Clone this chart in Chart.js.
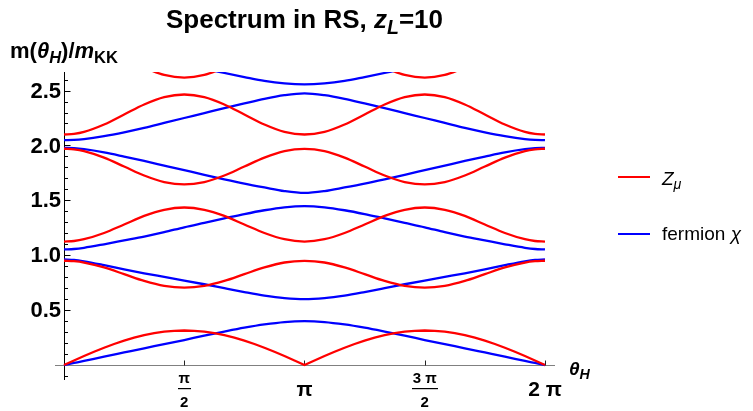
<!DOCTYPE html>
<html>
<head>
<meta charset="utf-8">
<script src="https://cdn.jsdelivr.net/npm/chart.js@4.4.1/dist/chart.umd.min.js"></script>
<style>
  body { margin: 0; background: #fff; }
  #wrap { position: relative; width: 753px; height: 411px; font-family: "Liberation Sans", Arial, sans-serif; }
  #box { position: absolute; left: 0; top: 0; width: 753px; height: 411px; }
  .lbl { position: absolute; line-height: 1; white-space: nowrap; color: #000; }
  .lbl sub { font-size: 0.75em; line-height: 0; vertical-align: -0.3em; }
  .swatch { position: absolute; width: 32px; height: 2px; }
</style>
</head>
<body>
<div id="wrap">
  <div id="box"><canvas id="spec"></canvas></div>
  <div class="lbl" style="left:0;width:609px;text-align:center;top:6px;font-size:26px;font-weight:bold">Spectrum in RS, <i>z</i><sub><i>L</i></sub>=10</div>
  <div class="lbl" style="left:10px;top:40px;font-size:22px;font-weight:bold">m(<i>θ</i><sub><i>H</i></sub>)/<i>m</i><sub>KK</sub></div>
  <div class="lbl" style="left:569px;top:359px;font-size:19px;font-weight:bold"><i>θ</i><sub><i>H</i></sub></div>
  <div class="swatch" style="left:618px;top:176px;background:#ff0000"></div>
  <div class="lbl" style="left:662px;top:169px;font-size:19px"><i>Z</i><sub><i>μ</i></sub></div>
  <div class="swatch" style="left:618px;top:233px;background:#0000ff"></div>
  <div class="lbl" style="left:662px;top:224px;font-size:19px">fermion <i>χ</i></div>
</div>
<script>
// theta in units of pi/12 (0 .. 2 pi); extra half steps at the ends
const theta = [0,0.5,1,2,3,4,5,6,7,8,9,10,11,12,13,14,15,16,17,18,19,20,21,22,23,23.5,24]
// finer grid for the lowest Z mode, which has a kink at pi
const thetaFine = [0,0.5,1,1.5,2,2.5,3,3.5,4,4.5,5,5.5,6,6.5,7,7.5,8,8.5,9,9.5,10,10.5,11,11.5,12,
    12.5,13,13.5,14,14.5,15,15.5,16,16.5,17,17.5,18,18.5,19,19.5,20,20.5,21,21.5,22,22.5,23,23.5,24]

// Z_mu tower (red)
const z1 = [0,0.041,0.082,0.121,0.158,0.192,0.223,0.25,0.273,0.291,0.304,0.312,0.315,0.312,0.304,0.291,0.273,0.25,0.223,0.192,0.158,0.121,0.082,0.041,0,
    0.041,0.082,0.121,0.158,0.192,0.223,0.25,0.273,0.291,0.304,0.312,0.315,0.312,0.304,0.291,0.273,0.25,0.223,0.192,0.158,0.121,0.082,0.041,0]
const z2 = [0.95,0.946,0.934,0.889,0.828,0.766,0.721,0.705,0.721,0.766,0.828,0.889,0.934,0.948,0.934,0.889,0.828,0.766,0.721,0.705,0.721,0.766,0.828,0.889,0.934,0.946,0.95]
const z3 = [1.125,1.13,1.146,1.203,1.28,1.358,1.414,1.435,1.414,1.358,1.28,1.203,1.146,1.125,1.146,1.203,1.28,1.358,1.414,1.435,1.414,1.358,1.28,1.203,1.146,1.13,1.125]
const z4 = [1.97,1.964,1.948,1.889,1.808,1.726,1.667,1.645,1.667,1.726,1.808,1.889,1.948,1.968,1.948,1.889,1.808,1.726,1.667,1.645,1.667,1.726,1.808,1.889,1.948,1.964,1.97]
const z5 = [2.10,2.106,2.124,2.191,2.282,2.373,2.44,2.464,2.44,2.373,2.282,2.191,2.124,2.10,2.124,2.191,2.282,2.373,2.44,2.464,2.44,2.373,2.282,2.191,2.124,2.106,2.10]
const z6 = [null,null,null,null,null,2.708,2.642,2.618,2.642,2.708,null,null,null,null,null,null,null,2.708,2.642,2.618,2.642,2.708,null,null,null,null,null]

// fermion chi tower (blue)
const f1 = [0,0.019,0.038,0.077,0.115,0.153,0.19,0.228,0.268,0.305,0.34,0.37,0.392,0.40,0.392,0.37,0.34,0.305,0.268,0.228,0.19,0.153,0.115,0.077,0.038,0.019,0]
const f2 = [0.962,0.958,0.945,0.91,0.872,0.836,0.803,0.77,0.736,0.70,0.665,0.633,0.61,0.60,0.61,0.633,0.665,0.70,0.736,0.77,0.803,0.836,0.872,0.91,0.945,0.958,0.962]
const f3 = [1.053,1.057,1.068,1.10,1.135,1.17,1.21,1.255,1.295,1.335,1.375,1.41,1.437,1.448,1.437,1.41,1.375,1.335,1.295,1.255,1.21,1.17,1.135,1.10,1.068,1.057,1.053]
const f4 = [1.978,1.975,1.966,1.937,1.899,1.859,1.817,1.775,1.733,1.692,1.653,1.618,1.585,1.568,1.585,1.618,1.653,1.692,1.733,1.775,1.817,1.859,1.899,1.937,1.966,1.975,1.978]
const f5 = [2.048,2.05,2.058,2.085,2.12,2.16,2.205,2.25,2.295,2.34,2.383,2.425,2.458,2.475,2.458,2.425,2.383,2.34,2.295,2.25,2.205,2.16,2.12,2.085,2.058,2.05,2.048]
const f6 = [null,null,null,null,null,null,null,2.745,2.70,2.66,2.623,2.588,2.565,2.556,2.565,2.588,2.623,2.66,2.70,2.745,null,null,null,null,null,null,null]

// ticks
const xTickValues = [6, 12, 18, 24]
const xTickLabels = [['π', '2'], 'π', ['3 π', '2'], '2 π']
const yTickValues = [0.5, 1, 1.5, 2, 2.5]
const yTickLabels = ['0.5', '1.0', '1.5', '2.0', '2.5']

const RED = '#ff0000'
const BLUE = '#0000ff'

function curve(xs, ys, color, smooth) {
    return {
        data: xs.map((x, i) => ({ x: x, y: ys[i] })),
        borderColor: color,
        borderWidth: 2.3,
        pointRadius: 0,
        fill: false,
        clip: 0,
        tension: 0,
        cubicInterpolationMode: smooth ? 'monotone' : 'default',
    }
}

const datasets = [
    curve(thetaFine, z1, RED, false),
    curve(theta, z2, RED, true),
    curve(theta, z3, RED, true),
    curve(theta, z4, RED, true),
    curve(theta, z5, RED, true),
    curve(theta, z6, RED, true),
    curve(theta, f1, BLUE, true),
    curve(theta, f2, BLUE, true),
    curve(theta, f3, BLUE, true),
    curve(theta, f4, BLUE, true),
    curve(theta, f5, BLUE, true),
    curve(theta, f6, BLUE, true),
]

const FONT = '"Liberation Sans", Arial, sans-serif'

// Mathematica-style axes crossing at the origin
const axesPlugin = {
    id: 'mmaAxes',
    beforeDatasetsDraw(chart) {
        const { ctx, chartArea: a, scales: { x, y } } = chart
        const x0 = Math.round(x.getPixelForValue(0)) + 0.5
        const y0 = Math.round(y.getPixelForValue(0)) + 0.5
        ctx.save()
        ctx.lineWidth = 1

        // x axis
        ctx.strokeStyle = '#808080'
        ctx.beginPath()
        ctx.moveTo(a.left, y0)
        ctx.lineTo(a.right, y0)
        ctx.stroke()
        ctx.strokeStyle = '#222'
        ctx.beginPath()
        xTickValues.forEach(t => {
            const px = Math.round(x.getPixelForValue(t)) + 0.5
            ctx.moveTo(px, y0)
            ctx.lineTo(px, y0 - 5)
        })
        ctx.stroke()

        // y axis
        ctx.strokeStyle = '#000'
        ctx.beginPath()
        ctx.moveTo(x0, a.top)
        ctx.lineTo(x0, a.bottom)
        for (let i = -1; i <= 26; i++) {
            if (i === 0) continue
            const py = Math.round(y.getPixelForValue(i / 10)) + 0.5
            const len = i % 5 === 0 ? 6 : 3.5
            ctx.moveTo(x0, py)
            ctx.lineTo(x0 + len, py)
        }
        ctx.stroke()

        // y tick labels
        ctx.fillStyle = '#000'
        ctx.font = 'bold 22px ' + FONT
        ctx.textAlign = 'right'
        ctx.textBaseline = 'middle'
        yTickValues.forEach((v, i) => {
            ctx.fillText(yTickLabels[i], x0 - 3.5, y.getPixelForValue(v) + 1)
        })

        // x tick labels
        ctx.textAlign = 'center'
        ctx.textBaseline = 'alphabetic'
        xTickValues.forEach((v, i) => {
            const px = x.getPixelForValue(v)
            const lab = xTickLabels[i]
            if (Array.isArray(lab)) {
                ctx.font = 'bold 15px ' + FONT
                const w = ctx.measureText(lab[0]).width
                ctx.fillText(lab[0], px, 383)
                ctx.fillText(lab[1], px, 407)
                ctx.fillRect(Math.round(px - w / 2 - 1), 388, Math.round(w + 2), 1.2)
            } else {
                ctx.font = 'bold 21px ' + FONT
                ctx.fillText(lab, px, 396)
            }
        })
        ctx.restore()
    },
}

const config = {
    type: 'line',
    data: { datasets: datasets },
    options: {
        responsive: true,
        maintainAspectRatio: false,
        animation: false,
        layout: { padding: { left: 55, right: 198, top: 72, bottom: 31 } },
        plugins: { legend: { display: false }, title: { display: false }, tooltip: { enabled: false } },
        scales: {
            x: { type: 'linear', min: -0.449, max: 24.5, display: false },
            y: { type: 'linear', min: -0.136, max: 2.669, display: false },
        },
    },
    plugins: [axesPlugin],
}

const spectrumChart = new Chart(document.getElementById('spec'), config)
</script>
</body>
</html>
